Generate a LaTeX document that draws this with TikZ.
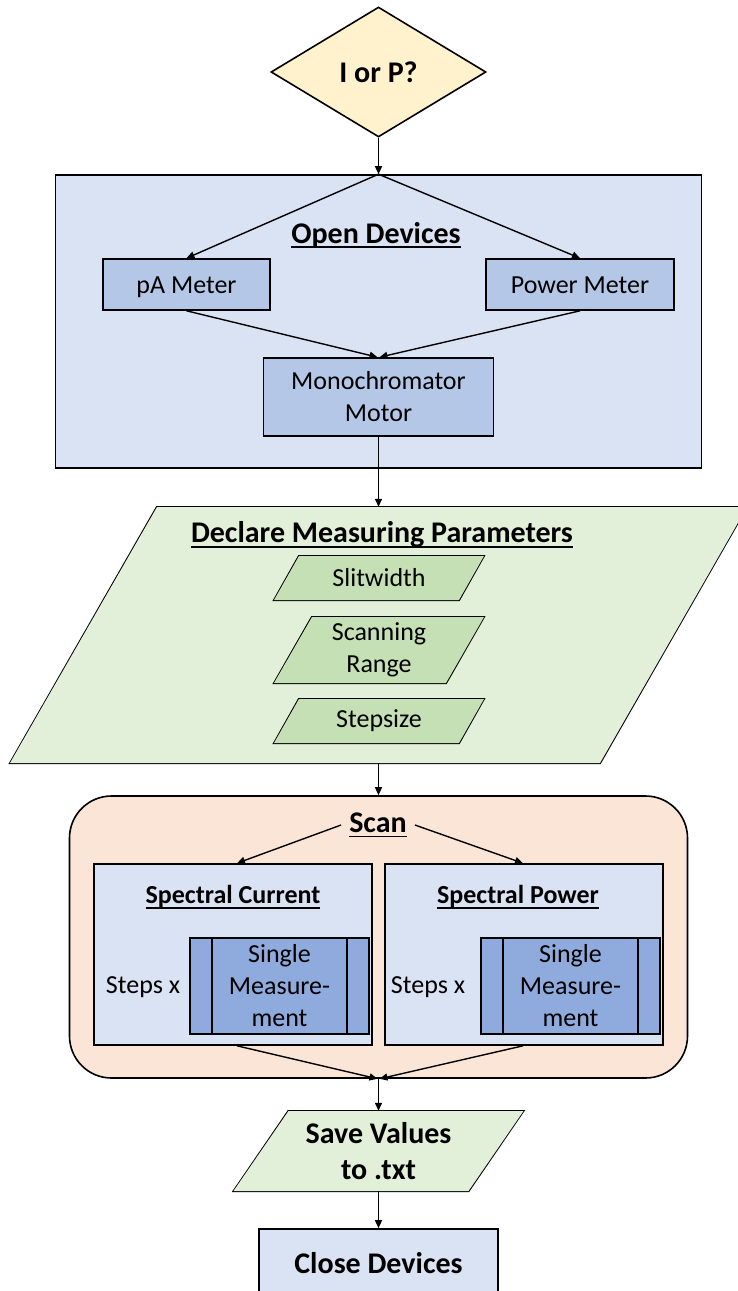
\documentclass[tikz,border=0pt]{standalone}
\usepackage{fontspec}
\setmainfont{Carlito}
\usepackage{tikz}
\usetikzlibrary{shapes.geometric, arrows.meta, positioning}
\definecolor{decisioncolor}{RGB}{255, 242, 204}
\definecolor{devicecolor}{RGB}{218, 227, 243}
\definecolor{metercolor}{RGB}{180, 199, 231}
\definecolor{paramcolor}{RGB}{226, 240, 217}
\definecolor{inputcolor}{RGB}{197, 224, 180}
\definecolor{scancolor}{RGB}{251, 229, 214}
\definecolor{measurecolor}{RGB}{143, 170, 220}

\newcommand{\titleline}[1]{\leavevmode\setbox0\hbox{#1}\rlap{\rule[-5pt]{\wd0}{1.6pt}}\box0}

\tikzset{
  every node/.style={font=\fontsize{26}{32}\selectfont, align=center},
  box/.style={draw, line width=1.6pt, rectangle, inner sep=0pt},
  meter/.style={box, fill=metercolor, minimum height=51, text height=18pt, text depth=0pt},
  % parallelogram: fill colour, slant offset
  iobox/.style 2 args={rectangle, inner sep=0pt,
    path picture={\fill[#1] (path picture bounding box.south west) -- ([xshift=-#2]path picture bounding box.south east) -- (path picture bounding box.north east) -- ([xshift=#2]path picture bounding box.north west) -- cycle;},
    append after command={\pgfextra{\draw[line width=1.6pt] (\tikzlastnode.south west) -- ([xshift=-#2]\tikzlastnode.south east) -- (\tikzlastnode.north east) -- ([xshift=#2]\tikzlastnode.north west) -- cycle;}}},
  procbox/.style={box, fill=measurecolor, path picture={
      \draw[line width=1.6pt] ([xshift=22pt]path picture bounding box.north west) -- ([xshift=22pt]path picture bounding box.south west);
      \draw[line width=1.6pt] ([xshift=-22pt]path picture bounding box.north east) -- ([xshift=-22pt]path picture bounding box.south east);
  }},
  flow/.style={-{Triangle[length=8pt, width=7pt]}, line width=1.4pt},
  joint/.style={line width=1.4pt},
  titletext/.style={font=\fontsize{30}{36}\selectfont\bfseries},
  subtext/.style={font=\fontsize{26}{32}\selectfont\bfseries}
}

\begin{document}
\begin{tikzpicture}[x=1pt, y=-1pt]
    \useasboundingbox (0,0) rectangle (737,1291);

    % Decision
    \node[draw, line width=1.6pt, diamond, fill=decisioncolor, inner sep=0pt, minimum width=215, minimum height=130, titletext] (choice) at (378.5,72) {I or P?};

    % Open devices
    \node[box, fill=devicecolor, minimum width=646, minimum height=293] (devices) at (378.5,321.5) {};
    \node[titletext] (devtitle) at (376,235) {\titleline{Open Devices}};
    \node[meter, minimum width=167] (pameter) at (186.5,284.5) {pA Meter};
    \node[meter, minimum width=188] (powermeter) at (580,284.5) {Power Meter};
    \node[box, fill=metercolor, minimum width=230, minimum height=78] (motor) at (378.5,397) {Monochromator\\Motor};

    % Measuring parameters
    \node[iobox={paramcolor}{147pt}, minimum width=737, minimum height=256] (params) at (378.5,635) {};
    \node[titletext] (paramtitle) at (382,535) {\titleline{Declare Measuring Parameters}};
    \node[iobox={inputcolor}{25pt}, minimum width=210, minimum height=44] (slit) at (379,578) {Slitwidth};
    \node[iobox={inputcolor}{38pt}, minimum width=210, minimum height=66] (range) at (379,650) {Scanning\\Range};
    \node[iobox={inputcolor}{25pt}, minimum width=210, minimum height=44] (stepsize) at (379,721) {Stepsize};

    % Scan
    \node[box, fill=scancolor, rounded corners=42pt, minimum width=618, minimum height=282] (scan) at (378.5,937) {};
    \node[titletext, inner sep=8pt] (scantitle) at (378,825) {\titleline{Scan}};
    \node[box, fill=devicecolor, minimum width=278, minimum height=181] (current) at (233,954.5) {};
    \node[subtext] (currenttitle) at (233,897) {\titleline{Spectral Current}};
    \node[procbox, minimum width=179, minimum height=96] (currentmeas) at (279.5,986) {Single\\Measure-\\ment};
    \node (currentsteps) at (143,987) {Steps x};
    \node[box, fill=devicecolor, minimum width=278, minimum height=181] (power) at (524,954.5) {};
    \node[subtext] (powertitle) at (518,897) {\titleline{Spectral Power}};
    \node[procbox, minimum width=179, minimum height=96] (powermeas) at (570.5,986) {Single\\Measure-\\ment};
    \node (powersteps) at (428,987) {Steps x};

    % Save and close
    \node[iobox={paramcolor}{55pt}, minimum width=290, minimum height=80, titletext] (save) at (378.5,1151) {Save Values\\to .txt};
    \node[box, fill=devicecolor, minimum width=239, minimum height=68, titletext] (close) at (378.5,1263) {Close Devices};

    % Connectors
    \draw[flow] (choice.south) -- (devices.north);
    \draw[flow] (devices.north) -- (pameter.north);
    \draw[flow] (devices.north) -- (powermeter.north);
    \draw[flow] (pameter.south) -- ([xshift=-1pt]motor.north);
    \draw[flow] (powermeter.south) -- ([xshift=1pt]motor.north);
    \draw[joint] (motor.south) -- (devices.south);
    \draw[flow] (devices.south) -- (params.north);
    \draw[flow] (params.south) -- (scan.north);
    \draw[flow] (scantitle.west) -- ([xshift=4pt]current.north);
    \draw[flow] (scantitle.east) -- ([xshift=-1pt]power.north);
    \draw[flow] ([xshift=4pt]current.south) -- ([xshift=-1pt]scan.south);
    \draw[flow] ([xshift=-1pt]power.south) -- ([xshift=1pt]scan.south);
    \draw[flow] (scan.south) -- (save.north);
    \draw[flow] (save.south) -- (close.north);
\end{tikzpicture}
\end{document}
